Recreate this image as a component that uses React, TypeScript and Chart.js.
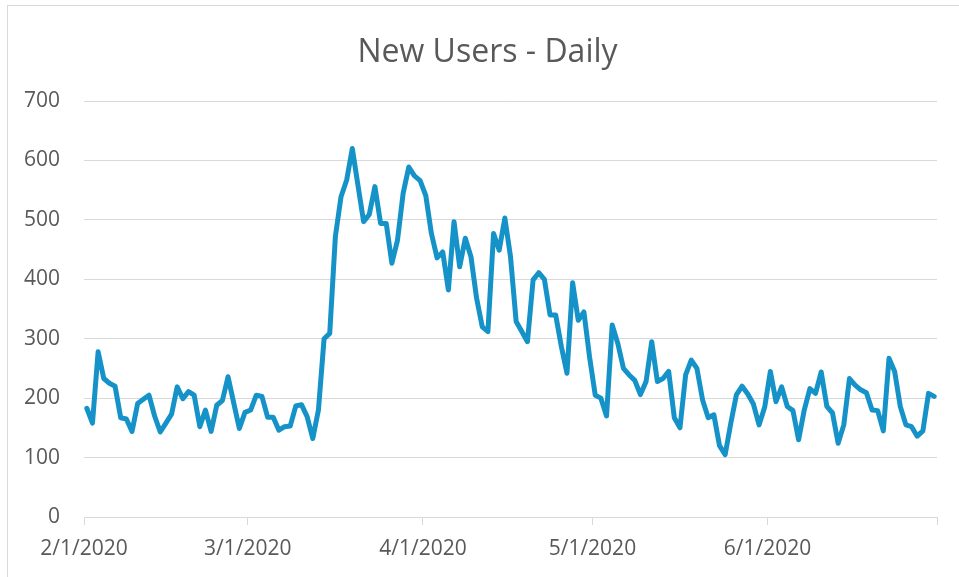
import React, { useEffect, useRef } from "react";
import { Chart, registerables } from "chart.js";

Chart.register(...registerables);

const chartTitle = "New Users - Daily";
const firstDay = "2020-02-01";
const monthTickDates = ["2020-02-01", "2020-03-01", "2020-04-01", "2020-05-01", "2020-06-01", "2020-07-01"];
const monthTickLabels = ["2/1/2020", "3/1/2020", "4/1/2020", "5/1/2020", "6/1/2020", ""];
const yMin = 0;
const yMax = 700;
const yStep = 100;

const febUsers = [183, 158, 278, 233, 225, 220, 167, 165, 144, 191, 198, 205, 170, 143, 158, 173, 219, 199, 211, 205, 152, 180, 144, 188, 196, 236, 192, 149, 176];
const marUsers = [180, 205, 203, 168, 168, 146, 152, 153, 187, 189, 169, 132, 180, 300, 309, 472, 539, 567, 620, 558, 497, 509, 556, 494, 494, 427, 466, 545, 589, 574, 566];
const aprUsers = [541, 477, 436, 446, 382, 497, 421, 469, 438, 368, 320, 312, 477, 449, 503, 438, 329, 312, 295, 399, 411, 400, 340, 340, 287, 242, 394, 331, 345, 269];
const mayUsers = [205, 200, 170, 323, 292, 250, 239, 230, 206, 228, 295, 228, 233, 245, 167, 150, 239, 264, 250, 197, 167, 172, 120, 105, 158, 206, 220, 207, 190, 155, 185];
const junUsers = [245, 194, 219, 186, 179, 130, 180, 216, 208, 244, 186, 175, 124, 155, 233, 222, 214, 209, 180, 179, 145, 267, 245, 186, 155, 152, 136, 145, 208, 203];

const dailyUsers = [...febUsers, ...marUsers, ...aprUsers, ...mayUsers, ...junUsers];

const dayOffset = (d: string) => {
  const [y, m, dd] = d.split("-").map(Number);
  const [y0, m0, d0] = firstDay.split("-").map(Number);
  return Math.round((Date.UTC(y, m - 1, dd) - Date.UTC(y0, m0 - 1, d0)) / 86400000);
};

const FONT = "'Open Sans', 'Liberation Sans', sans-serif";
const TEXT = "#595959";
const GRID = "#d9d9d9";
const LINE = "#1593c8";

export default function App() {
  const canvasRef = useRef<HTMLCanvasElement | null>(null);

  useEffect(() => {
    if (!canvasRef.current) return;
    const tickOffsets = monthTickDates.map(dayOffset);
    const axisEnd = tickOffsets[tickOffsets.length - 1];
    const points = dailyUsers.map((v, i) => ({ x: i + 0.5, y: v }));

    const chart = new Chart(canvasRef.current, {
      type: "line",
      data: {
        datasets: [
          {
            label: "New Users",
            data: points,
            borderColor: LINE,
            backgroundColor: LINE,
            borderWidth: 5,
            pointRadius: 0,
            tension: 0,
            borderJoinStyle: "round",
            borderCapStyle: "round",
            fill: false,
            xAxisID: "x",
            yAxisID: "y",
          },
        ],
      },
      options: {
        animation: false,
        responsive: true,
        maintainAspectRatio: false,
        layout: { padding: { left: 0, right: 0, top: 0, bottom: 0 } },
        plugins: {
          legend: { display: false },
          tooltip: { enabled: false },
          title: {
            display: true,
            text: chartTitle,
            color: TEXT,
            font: { family: FONT, size: 32, weight: "normal" },
            padding: { top: 33.4, bottom: 29.2 },
          },
        },
        scales: {
          x: {
            type: "linear",
            min: 0,
            max: axisEnd,
            afterBuildTicks: (scale: any) => {
              scale.ticks = tickOffsets.map((v) => ({ value: v }));
            },
            afterFit: (scale: any) => {
              scale.height = 60;
            },
            ticks: {
              autoSkip: false,
              maxRotation: 0,
              minRotation: 0,
              padding: 11,
              color: TEXT,
              font: { family: FONT, size: 21 },
              callback: (value: any) => {
                const idx = tickOffsets.indexOf(Number(value));
                return idx >= 0 ? monthTickLabels[idx] : "";
              },
            },
            grid: {
              drawOnChartArea: false,
              drawTicks: true,
              tickLength: 8,
              color: GRID,
              lineWidth: 1,
            },
            border: { display: true, color: GRID, width: 1 },
          },
          y: {
            position: "left",
            min: yMin,
            max: yMax,
            afterFit: (scale: any) => {
              scale.width = 84;
            },
            ticks: {
              stepSize: yStep,
              padding: 24,
              color: TEXT,
              font: { family: FONT, size: 21 },
            },
            grid: {
              drawTicks: false,
              color: GRID,
              lineWidth: 1,
            },
            border: { display: false },
          },
          spacer: {
            position: "right",
            display: true,
            min: 0,
            max: 1,
            afterFit: (scale: any) => {
              scale.width = 38;
            },
            ticks: { display: false },
            grid: { display: false, drawTicks: false },
            border: { display: false },
          },
        },
      },
    });
    return () => chart.destroy();
  }, []);

  return (
    <div
      style={{
        position: "fixed",
        left: 0,
        top: 0,
        width: 959,
        height: 577,
        overflow: "hidden",
        background: "#ffffff",
      }}
    >
      <div
        style={{
          position: "absolute",
          left: 7,
          top: 5,
          width: 1200,
          height: 900,
          border: "1px solid #d9d9d9",
          boxSizing: "border-box",
        }}
      />
      <div style={{ position: "absolute", left: 0, top: 0, width: 975, height: 577 }}>
        <canvas ref={canvasRef} />
      </div>
    </div>
  );
}
